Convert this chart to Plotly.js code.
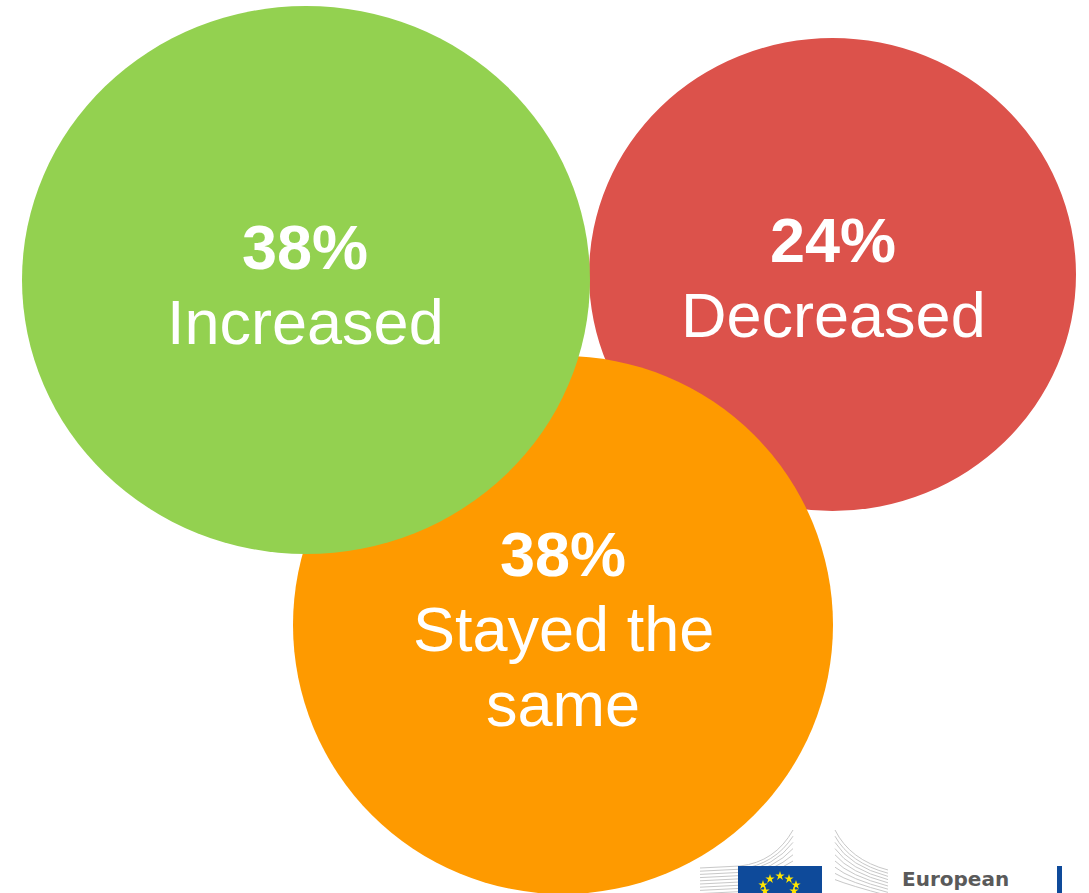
<!DOCTYPE html>
<html>
<head>
<meta charset="utf-8">
<script src="https://cdn.plot.ly/plotly-3.0.1.min.js"></script>
<style>html,body{margin:0;padding:0;background:#fff;}#chart{width:1089px;height:893px;}</style>
</head>
<body>
<div id="chart"></div>
<script>
// Data
const categories = ["Decreased", "Stayed the same", "Increased"];
const labelLines = [["Decreased"], ["Stayed the", "same"], ["Increased"]];
const values = [24, 38, 38];

// Layout / style (not data)
const colors = ["#DC524B", "#FE9A00", "#93D150"];
const bubbles = [
  {x0: 589, x1: 1076, y0: 38, y1: 511},
  {x0: 293, x1: 833, y0: 356, y1: 894},
  {x0: 22, x1: 590, y0: 6, y1: 554}
];
const textPos = [
  {x: 833, y: 240},
  {x: 563, y: 554},
  {x: 305, y: 247}
];
const lineGap = 75;
const fontSize = 63;

const shapes = [];
const annotations = [];
bubbles.forEach((b, i) => {
  shapes.push({type: "circle", xref: "x", yref: "y", x0: b.x0, x1: b.x1, y0: b.y0, y1: b.y1,
    fillcolor: colors[i], line: {width: 0}, layer: "above"});
  annotations.push({x: textPos[i].x, y: textPos[i].y, xref: "x", yref: "y",
    text: "<b>" + values[i] + "%</b>", showarrow: false, xanchor: "center", yanchor: "middle",
    font: {family: "Liberation Sans, Arial, sans-serif", size: fontSize, color: "#ffffff"}});
  labelLines[i].forEach((ln, k) => {
    annotations.push({x: textPos[i].x, y: textPos[i].y + lineGap * (k + 1), xref: "x", yref: "y",
      text: ln, showarrow: false, xanchor: "center", yanchor: "middle",
      font: {family: "Liberation Sans, Arial, sans-serif", size: fontSize, color: "#ffffff"}});
  });
});

// Logo decoration (European Commission), bottom-right
const grey = "#c8c8c8";
for (let k = 0; k < 9; k++) {
  const yy = 868 + k * 3.2;
  shapes.push({type: "path", xref: "x", yref: "y", layer: "below",
    path: `M 700 ${yy} L 740 ${yy - 2} Q 775 ${yy - 6 - k} 793 ${yy - 38 + k * 3}`,
    line: {color: grey, width: 1}});
  shapes.push({type: "path", xref: "x", yref: "y", layer: "below",
    path: `M 888 ${yy + 2} Q 850 ${yy - 8} 835 ${yy - 38 + k * 3}`,
    line: {color: grey, width: 1}});
}
shapes.push({type: "rect", xref: "x", yref: "y", x0: 738, x1: 822, y0: 866, y1: 894, layer: "below",
  fillcolor: "#0E4A9A", line: {width: 0}});
shapes.push({type: "rect", xref: "x", yref: "y", x0: 1057, x1: 1062, y0: 866, y1: 894, layer: "below",
  fillcolor: "#0E4A9A", line: {width: 0}});
const starPts = [[770, 879], [780, 876], [789, 879], [796, 885], [763, 885], [765, 891], [794, 891]];
const traces = [{
  x: starPts.map(p => p[0]), y: starPts.map(p => p[1]), mode: "markers", type: "scatter",
  marker: {symbol: "star", size: 7, color: "#FFE500", line: {width: 0}}, hoverinfo: "skip", showlegend: false
}];
annotations.push({x: 901, y: 866, xref: "x", yref: "y", text: "<b>European</b>", showarrow: false,
  xanchor: "left", yanchor: "top", borderpad: 0,
  font: {family: "DejaVu Sans, sans-serif", size: 20, color: "#5a5a5a"}});

const layout = {
  width: 1089, height: 893,
  margin: {l: 0, r: 0, t: 0, b: 0},
  paper_bgcolor: "#ffffff", plot_bgcolor: "#ffffff",
  xaxis: {range: [0, 1089], visible: false, fixedrange: true},
  yaxis: {range: [893, 0], visible: false, fixedrange: true},
  shapes: shapes, annotations: annotations, showlegend: false
};
Plotly.newPlot("chart", traces, layout, {displayModeBar: false, staticPlot: true});
</script>
</body>
</html>
